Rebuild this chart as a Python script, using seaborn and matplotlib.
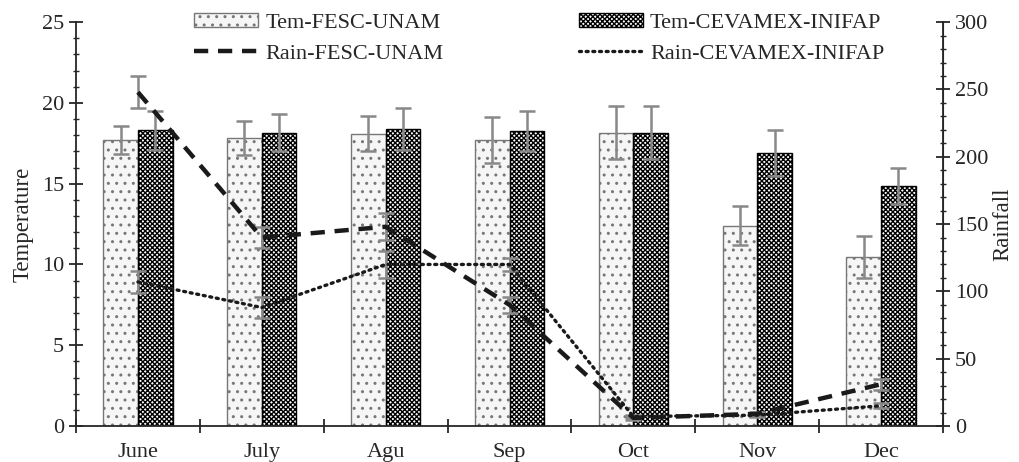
import pandas as pd
import numpy as np
import matplotlib
matplotlib.use("Agg")
import matplotlib.pyplot as plt
import seaborn as sns
from matplotlib.patches import Patch
from matplotlib.lines import Line2D
from matplotlib.ticker import MultipleLocator, FixedLocator

# Datos
meses = ['June', 'July', 'Agu', 'Sep', 'Oct', 'Nov', 'Dec']
tem_fesc = [17.7, 17.85, 18.1, 17.7, 18.15, 12.4, 10.45]
tem_cev = [18.3, 18.15, 18.4, 18.25, 18.15, 16.9, 14.85]
err_tem_fesc = [0.85, 1.05, 1.1, 1.4, 1.65, 1.2, 1.3]
err_tem_cev = [1.2, 1.15, 1.3, 1.25, 1.65, 1.4, 1.1]
rain_fesc = [248, 140, 148, 90, 6, 9, 31]
rain_cev = [107, 88, 120, 120, 7, 8, 15]
err_rain_fesc = [12, 8, 10, 6, 1.5, 1.5, 4]
err_rain_cev = [8.5, 7.5, 10, 5, 1, 1, 2]

series = ['Tem-FESC-UNAM', 'Tem-CEVAMEX-INIFAP']

df = pd.DataFrame({
    'Mes': meses * 2,
    'Temperatura': tem_fesc + tem_cev,
    'Serie': [series[0]] * len(meses) + [series[1]] * len(meses),
})

sns.set_style("ticks")
plt.rcParams['font.family'] = ['Liberation Serif', 'DejaVu Serif']
plt.rcParams['hatch.linewidth'] = 1.0

fig = plt.figure(figsize=(10.19, 4.62), dpi=100)
ax = fig.add_axes([0.0746, 0.078, 0.8508, 0.874])

sns.barplot(data=df, x='Mes', y='Temperatura', hue='Serie', order=meses,
            hue_order=series, palette=['#f6f6f6', 'white'], width=0.56,
            gap=0, errorbar=None, legend=False, ax=ax)

n = len(meses)
estilos = [dict(hatch='..', edgecolor='#777777'),
           dict(hatch='xxxxxxx', edgecolor='black')]
errores = [err_tem_fesc, err_tem_cev]
barras = list(ax.containers)
for k, cont in enumerate(barras):
    xs, ys = [], []
    for p in cont.patches:
        p.set_hatch(estilos[k]['hatch'])
        p.set_edgecolor(estilos[k]['edgecolor'])
        p.set_linewidth(1.0)
        xs.append(p.get_x() + p.get_width() / 2)
        ys.append(p.get_height())
    ax.errorbar(xs, ys, yerr=errores[k], fmt='none', ecolor='#888888',
                elinewidth=1.8, capsize=6, capthick=1.8, zorder=5)

ax.set_xlim(-0.5, n - 0.5)
ax.set_ylim(0, 25)
ax.yaxis.set_major_locator(MultipleLocator(5))
ax.yaxis.set_minor_locator(MultipleLocator(1))
ax.xaxis.set_minor_locator(FixedLocator(np.arange(-0.5, n, 1.0)))
ax.tick_params(axis='x', which='major', length=0, labelsize=16, pad=12)
ax.tick_params(axis='x', which='minor', direction='inout', length=10, width=1.3)
ax.tick_params(axis='y', which='major', direction='inout', length=10, width=1.3, labelsize=16)
ax.tick_params(axis='y', which='minor', direction='inout', length=5, width=1.0)
ax.set_xlabel('')
ax.set_ylabel('Temperature', fontsize=16.5, labelpad=6)
for s in ['left', 'bottom']:
    ax.spines[s].set_linewidth(1.3)
ax.spines['top'].set_visible(False)

# Eje derecho: lluvia
ax2 = ax.twinx()
x_pos = np.arange(n)
sns.lineplot(x=x_pos, y=rain_fesc, ax=ax2, color='#1a1a1a', lw=3.2, zorder=6)
ax2.lines[-1].set_dashes((3.2, 2.2))
sns.lineplot(x=x_pos, y=rain_cev, ax=ax2, color='#1a1a1a', lw=2.4, zorder=6)
ax2.lines[-1].set_dashes((0.6, 1.4))
ax2.lines[-1].set_dash_capstyle('round')
ax2.errorbar(x_pos, rain_fesc, yerr=err_rain_fesc, fmt='none', ecolor='#888888',
             elinewidth=1.8, capsize=6, capthick=1.8, zorder=5)
ax2.errorbar(x_pos, rain_cev, yerr=err_rain_cev, fmt='none', ecolor='#888888',
             elinewidth=1.8, capsize=6, capthick=1.8, zorder=5)
ax2.set_xlim(-0.5, n - 0.5)
ax2.set_ylim(0, 300)
ax2.yaxis.set_major_locator(MultipleLocator(50))
ax2.yaxis.set_minor_locator(MultipleLocator(10))
ax2.tick_params(axis='y', which='major', direction='inout', length=10, width=1.3, labelsize=16)
ax2.tick_params(axis='y', which='minor', direction='inout', length=5, width=1.0)
ax2.set_ylabel('Rainfall', fontsize=16.5, labelpad=3)
ax2.spines['right'].set_linewidth(1.3)
ax2.spines['top'].set_visible(False)
ax2.spines['left'].set_visible(False)
ax2.spines['bottom'].set_visible(False)

# Leyenda (orden por columnas)
handles = [
    Patch(facecolor='#f6f6f6', edgecolor='#777777', hatch='..', label='Tem-FESC-UNAM'),
    Line2D([], [], color='#1a1a1a', lw=3.2, dashes=(3.2, 2.2), label='Rain-FESC-UNAM'),
    Patch(facecolor='white', edgecolor='black', hatch='xxxxxxx', label='Tem-CEVAMEX-INIFAP'),
    Line2D([], [], color='#1a1a1a', lw=2.4, dashes=(0.6, 1.4), dash_capstyle='round',
           label='Rain-CEVAMEX-INIFAP'),
]
leg = fig.legend(handles=handles, ncol=2, loc='upper left',
                 bbox_to_anchor=(194 / 1019, 1 - 13 / 462), bbox_transform=fig.transFigure,
                 frameon=False, fontsize=16, columnspacing=6.1, handlelength=2.9,
                 handleheight=0.6, handletextpad=0.3, labelspacing=0.5, borderpad=0,
                 borderaxespad=0)

plt.savefig("out.png", dpi=100)
